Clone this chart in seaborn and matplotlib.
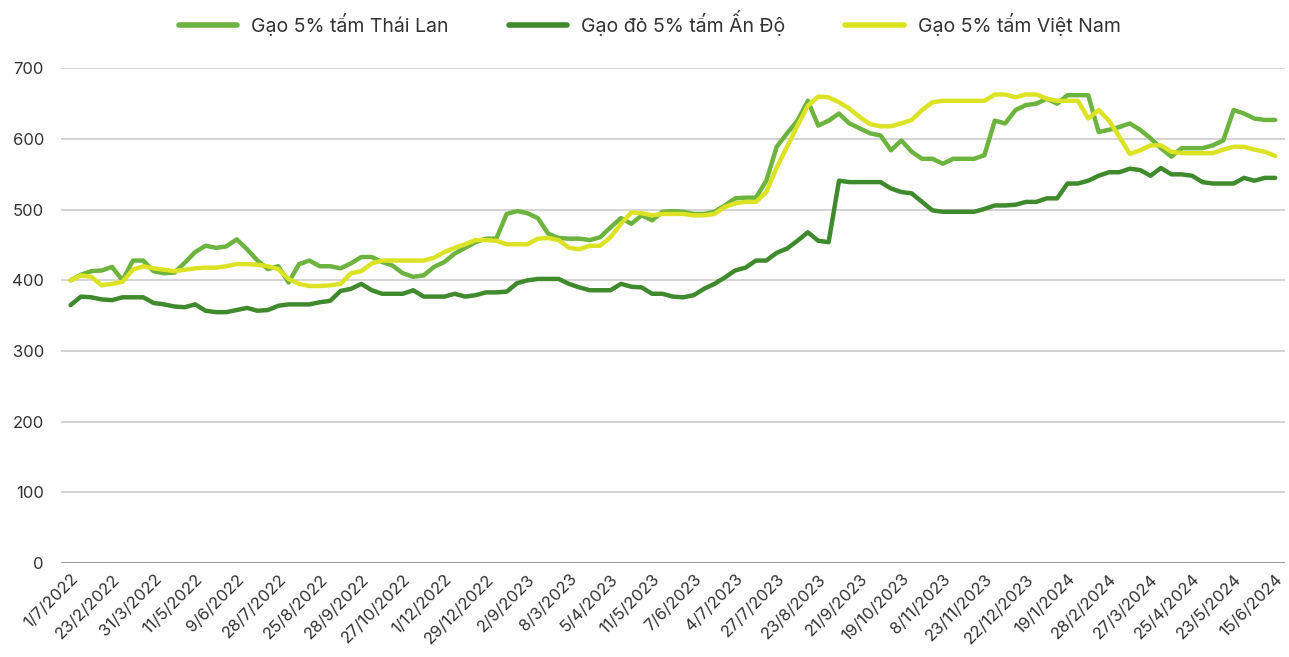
"""Gia gao xuat khau: Thai Lan, An Do, Viet Nam."""

import matplotlib

matplotlib.use("Agg")

import matplotlib.pyplot as plt
import pandas as pd
import seaborn as sns

tick_labels = [
    "1/7/2022", "23/2/2022", "31/3/2022", "11/5/2022", "9/6/2022", "28/7/2022",
    "25/8/2022", "28/9/2022", "27/10/2022", "1/12/2022", "29/12/2022", "2/9/2023",
    "8/3/2023", "5/4/2023", "11/5/2023", "7/6/2023", "4/7/2023", "27/7/2023",
    "23/8/2023", "21/9/2023", "19/10/2023", "8/11/2023", "23/11/2023", "22/12/2023",
    "19/1/2024", "28/2/2024", "27/3/2024", "25/4/2024", "23/5/2024", "15/6/2024",
]

thai = [
    400, 408, 413, 414, 419, 400, 428, 428, 413, 410, 411, 425, 440, 449, 446, 448,
    458, 444, 428, 416, 420, 397, 423, 428, 420, 420, 417, 424, 433, 433, 426, 421,
    410, 405, 407, 419, 426, 438, 446, 454, 459, 459, 494, 498, 495, 488, 466, 460,
    459, 459, 457, 461, 475, 488, 480, 492, 485, 497, 498, 497, 494, 494, 497, 506,
    516, 517, 517, 541, 589, 608, 626, 654, 619, 626, 636, 622, 615, 608, 605, 584,
    598, 582, 572, 572, 565, 572, 572, 572, 577, 626, 622, 641, 648, 650, 657, 650,
    662, 662, 662, 610, 613, 617, 622, 613, 601, 587, 575, 587, 587, 587, 591, 598,
    641, 636, 629, 627, 627,
]

india = [
    365, 377, 376, 373, 372, 376, 376, 376, 368, 366, 363, 362, 366, 357, 355, 355,
    358, 361, 357, 358, 364, 366, 366, 366, 369, 371, 385, 388, 395, 386, 381, 381,
    381, 386, 377, 377, 377, 381, 377, 379, 383, 383, 384, 396, 400, 402, 402, 402,
    395, 390, 386, 386, 386, 395, 391, 390, 381, 381, 377, 376, 379, 388, 395, 404,
    414, 418, 428, 428, 439, 445, 456, 468, 456, 454, 541, 539, 539, 539, 539, 530,
    525, 523, 511, 499, 497, 497, 497, 497, 501, 506, 506, 507, 511, 511, 516, 516,
    537, 537, 541, 548, 553, 553, 558, 556, 548, 559, 550, 550, 548, 539, 537, 537,
    537, 545, 541, 545, 545,
]

vietnam = [
    400, 407, 405, 393, 395, 398, 415, 420, 417, 415, 413, 415, 417, 418, 418, 420,
    423, 423, 422, 420, 416, 402, 395, 392, 392, 393, 395, 410, 413, 424, 428, 428,
    428, 428, 428, 432, 440, 446, 451, 457, 457, 456, 451, 451, 451, 459, 460, 457,
    446, 444, 449, 449, 461, 480, 496, 495, 492, 494, 494, 494, 492, 492, 494, 504,
    509, 511, 511, 525, 560, 589, 619, 647, 660, 659, 652, 643, 631, 621, 618, 618,
    622, 627, 641, 652, 654, 654, 654, 654, 654, 663, 663, 659, 663, 663, 657, 654,
    654, 654, 629, 641, 626, 603, 579, 584, 591, 591, 582, 580, 580, 580, 580, 585,
    589, 589, 585, 582, 576,
]

series_names = ["Gạo 5% tấm Thái Lan", "Gạo đỏ 5% tấm Ấn Độ", "Gạo 5% tấm Việt Nam"]
colors = ["#6db33f", "#3f8a2c", "#dbe324"]

df = pd.concat(
    [
        pd.DataFrame({"idx": range(len(vals)), "price": vals, "series": name})
        for name, vals in zip(series_names, [thai, india, vietnam])
    ],
    ignore_index=True,
)

sns.set_theme(style="white")
plt.rcParams["font.family"] = ["Inter", "DejaVu Sans"]

fig = plt.figure(figsize=(12.89, 6.57), dpi=100)
ax = fig.add_axes([0.047, 0.143, 0.95, 0.753])

for y in range(100, 701, 100):
    ax.axhline(y, color="#d4d4d4", lw=1.4, zorder=0)
ax.axhline(0, color="#9a9a9a", lw=2.2, zorder=0)

sns.lineplot(
    data=df, x="idx", y="price", hue="series", hue_order=series_names,
    palette=colors, linewidth=3.2, ax=ax, legend=True,
)

ax.set_xlim(-0.96, len(thai) - 1 + 0.96)
ax.set_ylim(0, 700)
ax.set_yticks(range(0, 701, 100))
ax.set_xticks(range(0, len(thai), 4))
ax.set_xticklabels(tick_labels, rotation=45, ha="right", rotation_mode="anchor")
ax.tick_params(axis="both", length=0, labelsize=12, colors="#333333", pad=6)
ax.tick_params(axis="y", pad=12)
ax.set_xlabel("")
ax.set_ylabel("")
for side in ax.spines.values():
    side.set_visible(False)

handles, labels = ax.get_legend_handles_labels()
for h in handles:
    h.set_linewidth(4)
ax.legend(
    handles, labels, loc="lower center", bbox_to_anchor=(0.481, 1.03), ncol=3,
    frameon=False, fontsize=14, handlelength=3.0, columnspacing=3.1,
    handletextpad=0.72, labelcolor="#333333",
)

fig.savefig("out.png", dpi=100)
plt.close(fig)
